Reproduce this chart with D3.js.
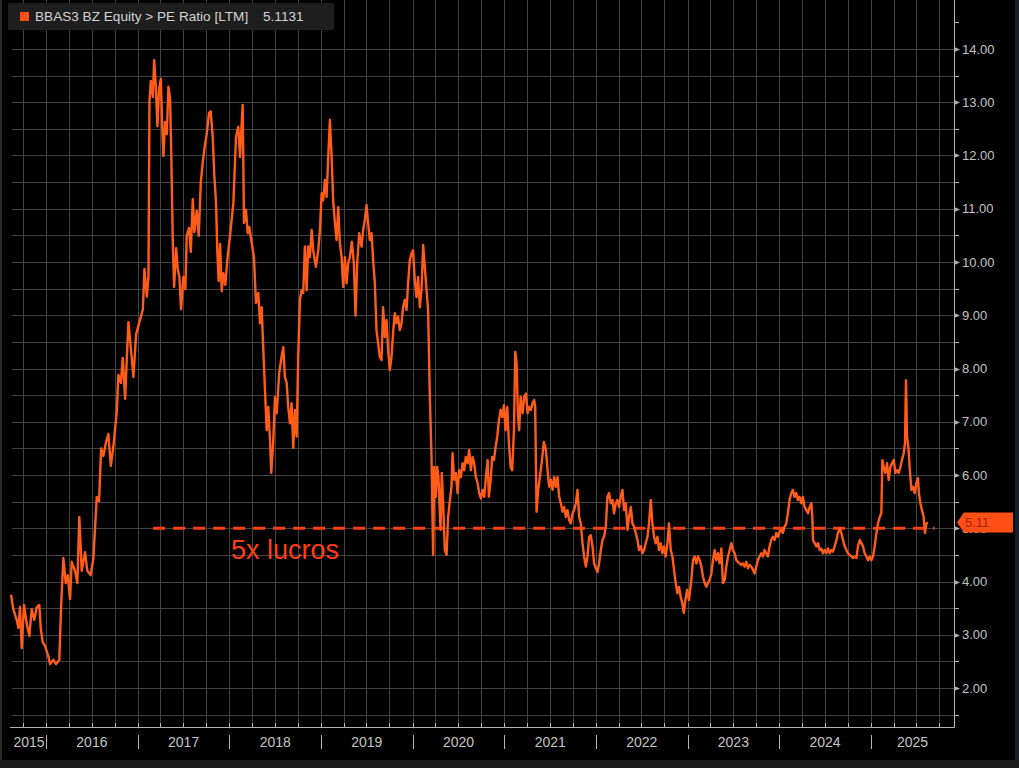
<!DOCTYPE html>
<html>
<head>
<meta charset="utf-8">
<script src="https://cdn.jsdelivr.net/npm/d3@7"></script>
<style>
  html, body { margin: 0; padding: 0; background: #000; }
  svg { display: block; }
</style>
</head>
<body>
<svg id="chart" width="1019" height="768"></svg>
<script>
// ---------------- DATA ----------------
const title = "BBAS3 BZ Equity > PE Ratio [LTM]";
const lastValueText = "5.1131";
const lastTagText = "5.11";
const yTickValues = [2, 3, 4, 5, 6, 7, 8, 9, 10, 11, 12, 13, 14];
const yTickLabels = ["2.00","3.00","4.00","5.00","6.00","7.00","8.00","9.00","10.00","11.00","12.00","13.00","14.00"];
const yearLabels = ["2015","2016","2017","2018","2019","2020","2021","2022","2023","2024","2025"];
const refValue = 5;
const refStart = 2017.167;   // decimal year
const refEnd = 2025.695;
const refLabel = "5x lucros";

// time in decimal years
const t = [
2015.618,2015.643,2015.680,2015.698,2015.716,2015.735,2015.760,2015.790,2015.818,2015.844,
2015.872,2015.899,2015.927,2015.942,2015.964,2015.989,2016.025,2016.044,2016.080,2016.109,
2016.145,2016.164,2016.189,2016.215,2016.237,2016.262,2016.280,2016.316,2016.341,2016.363,
2016.389,2016.425,2016.450,2016.487,2016.516,2016.553,2016.578,2016.600,2016.625,2016.654,
2016.679,2016.706,2016.734,2016.771,2016.788,2016.815,2016.836,2016.862,2016.880,2016.898,
2016.924,2016.952,2016.981,2017.017,2017.055,2017.072,2017.098,2017.116,2017.127,2017.142,
2017.164,2017.178,2017.196,2017.214,2017.232,2017.251,2017.265,2017.279,2017.298,2017.316,
2017.334,2017.352,2017.366,2017.382,2017.396,2017.418,2017.436,2017.454,2017.472,2017.497,
2017.519,2017.534,2017.559,2017.578,2017.600,2017.617,2017.643,2017.665,2017.687,2017.709,
2017.731,2017.752,2017.778,2017.796,2017.818,2017.835,2017.854,2017.868,2017.883,2017.898,
2017.916,2017.934,2017.955,2017.977,
2018.007,2018.043,2018.072,2018.097,2018.116,2018.134,2018.145,2018.159,2018.181,2018.200,
2018.217,2018.243,2018.268,2018.290,2018.315,2018.334,2018.352,2018.370,2018.388,2018.407,
2018.424,2018.443,2018.457,2018.479,2018.497,2018.516,2018.544,2018.570,2018.588,2018.606,
2018.625,2018.642,2018.661,2018.679,2018.697,2018.715,2018.734,2018.751,2018.770,2018.788,
2018.806,2018.824,2018.843,2018.860,2018.879,2018.898,2018.915,2018.944,2018.970,2018.988,
2019.007,2019.024,2019.043,2019.061,2019.079,2019.097,2019.116,2019.133,2019.152,2019.170,
2019.188,2019.206,2019.225,2019.242,2019.261,2019.279,2019.297,2019.315,2019.337,2019.359,
2019.377,2019.395,2019.417,2019.443,2019.460,2019.479,2019.497,2019.515,2019.533,2019.552,
2019.569,2019.588,2019.606,2019.624,2019.642,2019.661,2019.678,2019.697,2019.715,2019.733,
2019.751,2019.770,2019.787,2019.806,2019.824,2019.842,2019.860,2019.879,2019.896,2019.915,
2019.934,2019.951,2019.970,2019.988,2020.005,2020.024,2020.043,2020.060,2020.079,2020.097,
2020.115,2020.133,2020.152,2020.169,
2020.188,2020.206,2020.217,2020.224,2020.235,2020.253,2020.267,2020.282,2020.304,2020.318,
2020.333,2020.351,2020.370,2020.387,2020.406,2020.424,2020.435,2020.453,2020.471,2020.490,
2020.507,2020.526,2020.544,2020.562,2020.580,2020.599,2020.616,2020.635,2020.653,2020.671,
2020.689,2020.708,2020.725,2020.744,2020.762,2020.780,2020.798,2020.817,2020.831,2020.850,
2020.867,2020.886,2020.904,2020.922,2020.940,2020.959,2020.976,2020.995,2021.013,2021.031,
2021.049,2021.068,2021.085,2021.104,2021.118,2021.133,2021.147,2021.161,2021.177,2021.199,
2021.216,2021.235,2021.253,2021.271,2021.289,2021.308,2021.325,2021.336,2021.344,2021.351,
2021.369,2021.387,2021.406,2021.431,2021.453,2021.471,2021.489,2021.507,2021.526,2021.543,
2021.562,2021.580,2021.598,2021.616,2021.635,2021.652,2021.671,2021.689,2021.707,2021.725,
2021.744,2021.761,2021.780,2021.798,2021.816,2021.834,2021.853,2021.870,2021.889,2021.907,
2021.925,2021.943,2021.962,2021.979,2021.998,2022.016,2022.034,2022.052,2022.071,2022.088,
2022.107,2022.125,2022.143,2022.161,2022.180,2022.197,2022.216,2022.234,2022.252,2022.270,
2022.289,2022.306,2022.325,2022.344,2022.361,2022.380,2022.398,2022.416,2022.434,2022.453,
2022.470,2022.489,2022.507,2022.525,2022.543,2022.562,2022.579,2022.598,2022.616,2022.634,
2022.652,2022.671,2022.688,2022.707,2022.725,2022.743,2022.761,2022.780,2022.797,2022.816,
2022.834,2022.852,2022.870,2022.889,
2022.906,2022.925,2022.943,2022.958,2022.976,2022.994,2023.015,2023.041,2023.059,2023.077,
2023.096,2023.113,2023.132,2023.151,2023.168,2023.187,2023.205,2023.223,2023.241,2023.260,
2023.277,2023.296,2023.314,2023.332,2023.350,2023.369,2023.386,2023.405,2023.423,2023.441,
2023.459,2023.478,2023.495,2023.514,2023.532,2023.550,2023.568,2023.587,2023.604,2023.623,
2023.641,2023.659,2023.677,2023.696,2023.713,2023.732,2023.750,2023.768,2023.786,2023.805,
2023.822,2023.841,2023.859,2023.877,2023.895,2023.914,2023.931,2023.950,2023.968,2023.986,
2024.004,2024.023,2024.040,2024.059,2024.077,2024.095,2024.113,2024.132,2024.149,2024.168,
2024.186,2024.204,2024.222,2024.241,2024.258,2024.277,2024.296,2024.313,2024.332,2024.350,
2024.361,2024.368,2024.386,2024.405,2024.422,2024.441,2024.459,2024.477,2024.495,2024.514,
2024.531,2024.550,2024.568,2024.586,2024.604,2024.623,2024.640,2024.659,2024.677,2024.695,
2024.713,2024.732,2024.749,2024.768,2024.786,2024.804,2024.822,2024.841,2024.858,2024.877,
2024.895,2024.913,2024.931,2024.950,2024.967,2024.986,2025.004,2025.022,2025.040,2025.059,
2025.076,2025.095,2025.113,2025.124,2025.139,2025.157,2025.175,2025.193,2025.212,2025.229,
2025.248,2025.266,2025.284,2025.302,2025.321,2025.338,2025.357,2025.371,2025.382,2025.393,
2025.408,2025.422,2025.441,2025.458,2025.477,2025.495,2025.513,2025.523,2025.539,2025.556,
2025.575,2025.589,2025.604,2025.622
];

// PE ratio values
const pe = [
3.75,3.48,3.28,3.13,3.52,2.75,3.56,3.20,2.98,3.48,
3.28,3.52,3.56,3.13,2.86,2.79,2.60,2.45,2.53,2.45,
2.53,3.52,4.44,3.97,4.12,3.67,4.37,4.20,3.97,5.21,
4.20,4.55,4.20,4.12,4.44,5.59,5.51,6.50,6.36,6.62,
6.77,6.17,6.54,7.20,7.88,7.73,8.20,7.43,8.20,8.87,
8.38,7.84,8.64,8.87,9.11,9.87,9.35,9.72,13.02,13.40,
13.10,13.79,13.32,12.55,13.25,13.44,12.63,11.99,12.63,12.40,
13.29,13.06,11.95,10.34,9.53,10.26,9.87,9.72,9.11,9.72,
9.49,10.49,10.64,10.19,11.18,10.56,10.96,10.49,11.48,11.88,
12.18,12.40,12.80,12.83,12.33,11.63,11.11,10.19,9.64,10.34,
9.45,9.79,9.57,10.04,
10.50,11.11,12.35,12.54,11.97,12.61,12.95,10.73,10.98,10.54,
10.66,10.36,10.09,9.23,9.42,8.85,9.15,8.35,7.60,6.84,
7.28,6.66,6.04,6.66,7.46,7.16,7.92,8.22,8.40,7.84,
7.73,7.28,6.97,7.35,6.51,7.22,6.72,8.22,9.29,9.47,
9.42,10.29,9.47,10.29,10.09,10.60,10.22,9.91,10.22,10.60,
11.29,11.16,11.54,11.22,11.97,12.67,11.97,11.16,10.73,10.41,
11.03,10.36,10.09,9.53,10.09,9.60,9.97,10.09,10.38,9.97,
8.99,9.97,10.54,10.29,10.60,10.79,11.07,10.73,10.41,10.54,
10.04,9.60,8.72,8.47,8.22,8.16,9.15,8.59,8.91,8.35,
7.97,8.22,8.67,9.04,8.85,8.97,8.72,8.85,9.15,9.29,
9.10,9.60,10.04,10.16,10.22,9.66,9.34,9.72,9.15,9.47,
10.32,9.91,9.47,9.10,
7.47,6.34,5.21,4.50,6.15,5.59,6.15,5.96,4.97,6.04,
5.47,4.59,4.50,5.21,5.53,5.78,6.41,5.91,6.04,5.66,
6.09,5.96,6.22,6.09,6.34,6.22,6.47,6.09,6.34,6.22,
5.96,5.85,5.66,5.56,5.72,5.59,5.96,6.28,5.59,5.91,
6.34,6.28,6.53,6.72,7.03,7.22,7.09,7.31,6.84,7.28,
6.60,6.15,6.09,6.84,8.31,8.10,7.16,6.84,7.47,7.16,
7.47,7.53,7.16,7.28,7.22,7.35,7.41,7.28,6.22,5.31,
5.72,5.96,6.22,6.62,6.47,6.09,5.78,5.91,5.72,5.96,
5.78,5.96,5.59,5.47,5.31,5.40,5.21,5.34,5.15,5.09,
5.28,5.34,5.47,5.72,5.21,5.09,4.72,4.47,4.28,4.47,
4.84,4.87,4.66,4.34,4.25,4.18,4.34,4.59,4.78,4.84,
5.03,5.59,5.66,5.47,5.53,5.28,5.47,5.53,5.40,5.59,
5.72,5.34,5.47,4.97,5.21,5.40,5.09,5.03,4.91,4.78,
4.59,4.66,4.53,4.59,4.72,4.84,5.09,5.53,5.09,4.84,
4.72,4.84,4.59,4.72,4.53,4.66,4.47,4.72,5.09,4.59,
4.47,4.22,3.97,3.78,
3.90,3.71,3.59,3.41,3.65,3.84,3.65,4.03,4.40,4.47,
4.34,4.47,4.40,4.28,4.09,3.97,3.90,3.97,4.03,4.15,
4.40,4.59,4.40,4.53,4.34,4.62,3.97,4.03,4.28,4.47,
4.59,4.72,4.59,4.53,4.40,4.37,4.34,4.31,4.34,4.28,
4.37,4.25,4.31,4.28,4.22,4.15,4.28,4.40,4.47,4.53,
4.47,4.59,4.53,4.47,4.66,4.78,4.84,4.78,4.91,4.84,
4.93,4.97,4.91,5.03,5.09,5.28,5.53,5.66,5.72,5.59,
5.66,5.53,5.59,5.47,5.59,5.40,5.34,5.28,5.40,5.47,
5.21,4.78,4.72,4.66,4.72,4.59,4.62,4.53,4.59,4.53,
4.62,4.53,4.59,4.56,4.66,4.78,4.91,5.00,4.91,4.78,
4.66,4.59,4.53,4.50,4.47,4.44,4.47,4.44,4.66,4.78,
4.72,4.66,4.53,4.47,4.40,4.47,4.40,4.47,4.66,4.91,
5.09,5.21,5.28,6.28,6.15,6.04,6.22,5.91,6.15,6.22,
6.28,6.04,6.09,6.04,6.15,6.28,6.41,6.60,7.78,6.72,
6.53,6.15,5.72,5.78,5.66,5.85,5.94,5.66,5.47,5.34,
5.21,4.91,5.09,5.11
];

// ---------------- HELPERS ----------------
function decToDate(d) {
  const yr = Math.floor(d);
  const a = Date.UTC(yr, 0, 1), b = Date.UTC(yr + 1, 0, 1);
  return new Date(a + (d - yr) * (b - a));
}
const series = t.map((d, i) => ({ date: decToDate(d), v: pe[i] }));

// ---------------- LAYOUT ----------------
const svg = d3.select("#chart");
const W = 1019, H = 768;
const plotLeft = 10, plotRight = 954, plotTop = 0, plotBottom = 727;

const x = d3.scaleUtc()
  .domain([new Date(Date.UTC(2016, 0, 1)), new Date(Date.UTC(2025, 0, 1))])
  .range([46, 871]);
const y = d3.scaleLinear().domain([2, 14]).range([688, 49]);

const gridColor = "#424242";
const axisColor = "#b4b4b4";
const textColor = "#c4c4c4";
const lineColor = "#ff5c1a";
const refColor = "#ff3e16";
const font = "Liberation Sans, Arial, sans-serif";

svg.append("rect").attr("width", W).attr("height", H).attr("fill", "#000");
// frame pieces
svg.append("rect").attr("x", 0).attr("y", 760).attr("width", W).attr("height", 8).attr("fill", "#1b1b1b");
svg.append("rect").attr("x", 1015).attr("y", 0).attr("width", 4).attr("height", 760).attr("fill", "#15202c");
svg.append("line").attr("x1", 1).attr("x2", 1).attr("y1", 0).attr("y2", 760)
  .attr("stroke", "#2a2a2a").attr("stroke-width", 2);

// horizontal grid (every 0.5)
const hGrid = d3.range(1.5, 14.01, 0.5);
svg.append("g").selectAll("line").data(hGrid).join("line")
  .attr("x1", 12).attr("x2", plotRight)
  .attr("y1", d => Math.round(y(d)) + 0.5).attr("y2", d => Math.round(y(d)) + 0.5)
  .attr("stroke", gridColor).attr("stroke-width", 1);

// vertical grid (quarterly)
const quarters = d3.utcMonth.every(3).range(new Date(Date.UTC(2015, 9, 1)), new Date(Date.UTC(2025, 10, 2)));
svg.append("g").selectAll("line").data(quarters).join("line")
  .attr("x1", d => Math.round(x(d)) + 0.5).attr("x2", d => Math.round(x(d)) + 0.5)
  .attr("y1", plotTop).attr("y2", plotBottom)
  .attr("stroke", gridColor).attr("stroke-width", 1);

// reference dashed line
svg.append("line")
  .attr("x1", x(decToDate(refStart))).attr("x2", x(decToDate(refEnd)))
  .attr("y1", y(refValue)).attr("y2", y(refValue))
  .attr("stroke", refColor).attr("stroke-width", 3)
  .attr("stroke-dasharray", "12,8");

// data line
svg.append("path").datum(series)
  .attr("fill", "none").attr("stroke", lineColor).attr("stroke-width", 2.4)
  .attr("stroke-linejoin", "round")
  .attr("d", d3.line().x(d => x(d.date)).y(d => y(d.v)));

// reference label
svg.append("text")
  .attr("x", 231).attr("y", 559)
  .attr("fill", refColor)
  .attr("font-family", font)
  .attr("font-size", 27)
  .text(refLabel);

// axes lines
svg.append("line").attr("x1", plotRight + 0.5).attr("x2", plotRight + 0.5)
  .attr("y1", 0).attr("y2", plotBottom + 0.5).attr("stroke", axisColor).attr("stroke-width", 1);
svg.append("line").attr("x1", plotLeft).attr("x2", plotRight + 0.5)
  .attr("y1", plotBottom + 0.5).attr("y2", plotBottom + 0.5).attr("stroke", axisColor).attr("stroke-width", 1);

// y minor ticks (half values)
const yMinor = d3.range(1.5, 14.6, 1);
svg.append("g").selectAll("line").data(yMinor).join("line")
  .attr("x1", plotRight).attr("x2", plotRight + 5)
  .attr("y1", d => Math.round(y(d)) + 0.5).attr("y2", d => Math.round(y(d)) + 0.5)
  .attr("stroke", axisColor);
// y major ticks (small arrows)
svg.append("g").selectAll("path").data(yTickValues).join("path")
  .attr("d", d => { const yy = Math.round(y(d)) + 0.5; return `M${plotRight},${yy - 2.5}L${plotRight + 6},${yy}L${plotRight},${yy + 2.5}Z`; })
  .attr("fill", axisColor);
// y labels
svg.append("g").selectAll("text").data(yTickValues).join("text")
  .attr("x", 962).attr("y", d => y(d)).attr("dy", "0.36em")
  .attr("fill", textColor)
  .attr("font-family", font)
  .attr("font-size", 13)
  .text((d, i) => yTickLabels[i]);

// x quarterly ticks (above axis)
svg.append("g").selectAll("line").data(quarters).join("line")
  .attr("x1", d => Math.round(x(d)) + 0.5).attr("x2", d => Math.round(x(d)) + 0.5)
  .attr("y1", plotBottom - 4).attr("y2", plotBottom)
  .attr("stroke", axisColor);
// year separators (below axis)
const yearStarts = d3.range(2016, 2026).map(yy => new Date(Date.UTC(yy, 0, 1)));
svg.append("g").selectAll("line").data(yearStarts).join("line")
  .attr("x1", d => Math.round(x(d)) + 0.5).attr("x2", d => Math.round(x(d)) + 0.5)
  .attr("y1", 735).attr("y2", 749)
  .attr("stroke", axisColor);
// year labels centered in visible part of year span
svg.append("g").selectAll("text").data(yearLabels).join("text")
  .attr("x", d => {
    const yy = +d;
    const a = Math.max(x(new Date(Date.UTC(yy, 0, 1))), plotLeft + 2);
    const b = Math.min(x(new Date(Date.UTC(yy + 1, 0, 1))), plotRight);
    return (a + b) / 2;
  })
  .attr("y", 747)
  .attr("text-anchor", "middle")
  .attr("fill", textColor)
  .attr("font-family", font)
  .attr("font-size", 14)
  .text(d => d);

// last value tag
const lastV = pe[pe.length - 1];
const ty = y(lastV);
svg.append("path")
  .attr("d", `M957,${ty}L964,${ty - 10}L1013,${ty - 10}L1013,${ty + 10}L964,${ty + 10}Z`)
  .attr("fill", "#ff4f14");
svg.append("text")
  .attr("x", 965).attr("y", ty).attr("dy", "0.36em")
  .attr("fill", "#a8200a")
  .attr("font-family", font)
  .attr("font-size", 13)
  .text(lastTagText);

// legend
svg.append("rect").attr("x", 8).attr("y", 3).attr("width", 326).attr("height", 27)
  .attr("rx", 2).attr("fill", "#1e1e1e");
svg.append("rect").attr("x", 20).attr("y", 12).attr("width", 9).attr("height", 9)
  .attr("fill", "#ff4f14");
svg.append("text").attr("x", 35).attr("y", 21)
  .attr("fill", "#d2d2d2")
  .attr("font-family", font)
  .attr("font-size", 13.6)
  .text(title);
svg.append("text").attr("x", 263).attr("y", 21)
  .attr("fill", "#d2d2d2")
  .attr("font-family", font)
  .attr("font-size", 13.6)
  .text(lastValueText);
</script>
</body>
</html>
